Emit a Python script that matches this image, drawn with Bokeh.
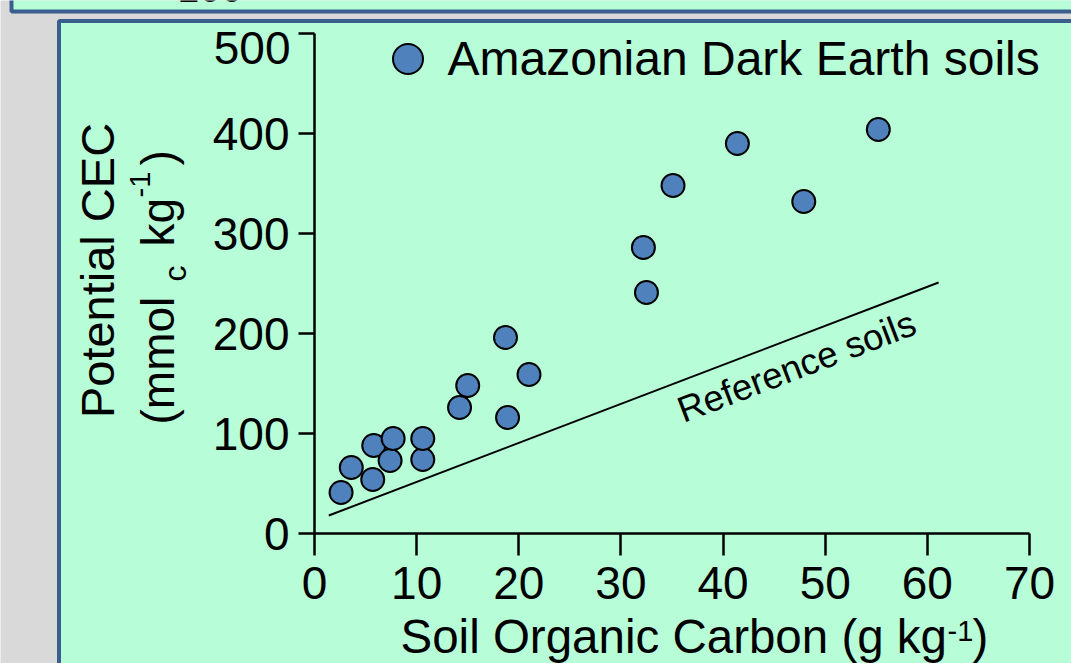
import math
from bokeh.plotting import figure
from bokeh.models import Range1d, FixedTicker, LinearAxis, Legend, LegendItem
from bokeh.core.properties import value
from bokeh.embed import file_html
from bokeh.resources import INLINE

# ---------------- data ----------------
soc = [2.6, 3.6, 5.7, 5.8, 7.4, 7.7, 10.6, 10.6, 14.2, 15.0, 18.7, 18.9, 21.0,
       32.2, 32.5, 35.1, 41.4, 47.9, 55.2]
cec = [41, 66, 54, 88, 73, 95, 74, 95, 126, 148, 196, 116, 159,
       286, 241, 348, 390, 332, 404]
ref_soc = [1.4, 61.1]
ref_cec = [18, 251]
x_ticks = [0, 10, 20, 30, 40, 50, 60, 70]
y_ticks = [0, 100, 200, 300, 400, 500]
series_label = "Amazonian Dark Earth soils"
ref_label = "Reference soils"

# ---------------- layout helpers (picture pixel -> data) ----------------
GRAY = "#d9d9d9"
GREEN = "#b7fdd7"
BLUE = "#3a5f8e"
DOT = "#4f81bd"
FONT = "Liberation Sans"

W, H = 1071, 663
SX = (1029 - 314) / 70.0   # px per x unit
SY = (533 - 33) / 500.0    # px per y unit
MID = 0.39                 # baseline sits this many ems below a "middle" anchor


def dx(rx):
    return (rx - 314) / SX


def dy(ry):
    return (533 - ry) / SY


def fpx(fs):
    return "%gpx" % fs


p = figure(width=W, height=H,
           x_range=Range1d(dx(0), dx(W)), y_range=Range1d(dy(H), dy(0)),
           output_backend="svg", toolbar_location=None,
           x_axis_location=None, y_axis_location=None,
           min_border=0, background_fill_color=GRAY, border_fill_color=GRAY,
           outline_line_color=None)
for g in p.grid:
    g.visible = False


def htext(txt, rx, base_y, fs, align="left"):
    p.text(x=[dx(rx)], y=[dy(base_y - MID * fs)], text=[txt], text_align=align,
           text_baseline="middle", text_font=value(FONT), text_font_size=fpx(fs),
           text_color="black")


def vtext(txt, base_x, ry, fs, align="left"):
    p.text(x=[dx(base_x - MID * fs)], y=[dy(ry)], text=[txt], angle=math.pi / 2,
           text_align=align, text_baseline="middle", text_font=value(FONT),
           text_font_size=fpx(fs), text_color="black")


# panels
p.quad(left=[dx(11)], right=[dx(1120)], top=[dy(-40)], bottom=[dy(11)],
       fill_color=GREEN, line_color=BLUE, line_width=4)
htext("100", 177, 3.5, 39)
p.quad(left=[dx(58.5)], right=[dx(1120)], top=[dy(20.5)], bottom=[dy(720)],
       fill_color=GREEN, line_color=BLUE, line_width=4)

# axes
xaxis = LinearAxis(fixed_location=0, bounds=(0, 70), ticker=FixedTicker(ticks=x_ticks))
yaxis = LinearAxis(fixed_location=0, bounds=(0, 500), ticker=FixedTicker(ticks=y_ticks))
for ax in (xaxis, yaxis):
    ax.axis_line_color = "black"
    ax.axis_line_width = 2.5
    ax.major_tick_line_color = "black"
    ax.major_tick_line_width = 2.5
    ax.major_tick_in = 0
    ax.minor_tick_in = 0
    ax.minor_tick_out = 0
    ax.major_label_text_font = FONT
    ax.major_label_text_font_size = "46px"
    ax.major_label_text_color = "black"
xaxis.major_tick_out = 22
xaxis.major_label_standoff = 11
yaxis.major_tick_out = 16
yaxis.major_label_standoff = 9
yaxis.major_label_overrides = {500: ""}
p.add_layout(xaxis, "below")
p.add_layout(yaxis, "left")

# the "500" label sits a little below its tick in the original
p.text(x=[dx(290)], y=[dy(47)], text=["500"], text_align="right", text_baseline="middle",
       text_font=value(FONT), text_font_size="46px", text_color="black")

# reference line + label
p.line(ref_soc, ref_cec, line_color="black", line_width=2)
ang = math.atan2((ref_cec[1] - ref_cec[0]) * SY, (ref_soc[1] - ref_soc[0]) * SX)
p.text(x=[dx(796)], y=[dy(366)], text=[ref_label], angle=ang,
       text_align="center", text_baseline="middle",
       text_font=value(FONT), text_font_size="36.5px", text_color="black")

# scatter
r = p.scatter(soc, cec, size=23, fill_color=DOT, line_color="black", line_width=2)

legend = Legend(items=[LegendItem(label=series_label, renderers=[r])],
                location=(369.5, 663 - 95.5), glyph_width=75, glyph_height=75,
                label_text_font=FONT, label_text_font_size="48px",
                label_text_color="black", label_standoff=3,
                padding=0, margin=0, spacing=0, border_line_color=None,
                background_fill_alpha=0)
p.add_layout(legend)

# x axis title with superscript
htext("Soil Organic Carbon (g kg", 400, 655, 47.5)
htext("-1", 947, 642, 29)
htext(")", 972, 655, 47.5)

# y axis title (rotated), two lines with subscript / superscript
vtext("Potential CEC", 115, 270, 47, align="center")
vtext("(mmol", 175, 424, 46)
vtext("c", 187, 281, 32)
vtext("kg", 175, 246, 46)
vtext("-1", 151, 197, 29)
vtext(")", 175, 165, 46)

open("out.html", "w").write(file_html(p, INLINE))
